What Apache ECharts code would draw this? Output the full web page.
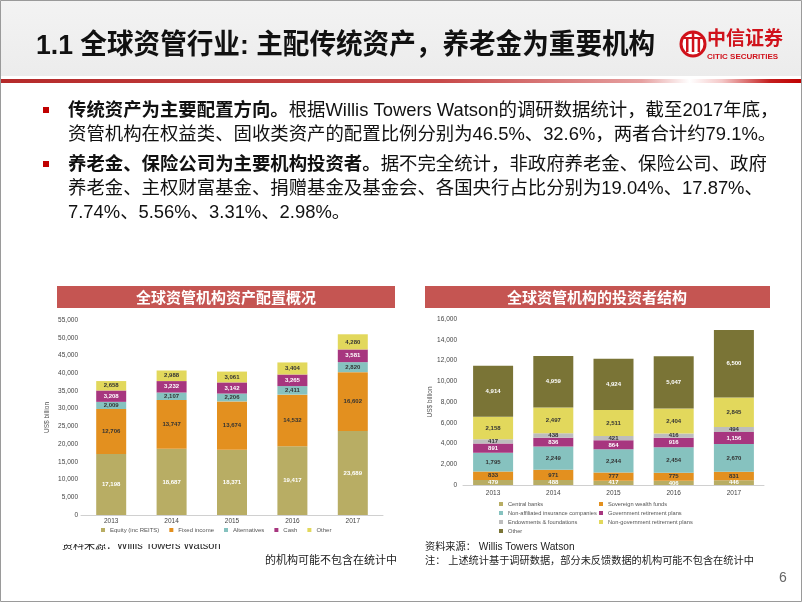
<!DOCTYPE html>
<html><head><meta charset="utf-8">
<script src="https://cdn.jsdelivr.net/npm/echarts@6/dist/echarts.min.js"></script>
<style>html,body{margin:0;padding:0;background:#fff}#c{width:802px;height:602px}</style>
</head><body><div id="c"></div>
<script>
// ---- data ----
const years = ['2013','2014','2015','2016','2017'];
// left chart: asset allocation (US$ bn)
const equity       = [17198,18687,18371,19417,23689];
const fixedIncome  = [12706,13747,13674,14532,16602];
const alternatives = [2009,2107,2206,2411,2820];
const cash         = [3208,3232,3142,3265,3581];
const otherAssets  = [2658,2988,3061,3404,4280];
// right chart: investor structure (US$ bn)
const centralBanks = [479,488,417,406,446];
const sovereign    = [833,971,777,775,831];
const insurance    = [1795,2249,2244,2454,2670];
const govPlans     = [891,836,864,916,1156];
const endowments   = [417,438,421,416,494];
const nonGovPlans  = [2158,2497,2511,2404,2845];
const otherInv     = [4914,4959,4924,5047,6500];

const leftNames  = ['Equity (inc REITS)','Fixed income','Alternatives','Cash','Other'];
const rightNames = ['Central banks','Sovereign wealth funds','Non-affiliated insurance companies','Government retirement plans','Endowments & foundations','Non-government retirement plans','Other '];

const CJK = "'Liberation Sans','Noto Sans CJK SC',sans-serif";
const fmt = v => Number(v).toLocaleString('en-US');

function bar(name, data, color, labelColor, xi, bw){
  return {name, type:'bar', stack:'s'+xi, data, xAxisIndex:xi, yAxisIndex:xi, barWidth:bw,
    itemStyle:{color}, emphasis:{disabled:true},
    label:{show:true, position:'inside', color:labelColor, fontSize:6, fontWeight:'bold',
      fontFamily:'Liberation Sans', formatter:p=>fmt(p.value)}};
}

const chart = echarts.init(document.getElementById('c'), null, {renderer:'canvas'});
const bullet1 = '{b|传统资产为主要配置方向。}根据Willis Towers Watson的调研数据统计，截至2017年底，\n资管机构在权益类、固收类资产的配置比例分别为46.5%、32.6%，两者合计约79.1%。';
const bullet2 = '{b|养老金、保险公司为主要机构投资者。}据不完全统计，非政府养老金、保险公司、政府\n养老金、主权财富基金、捐赠基金及基金会、各国央行占比分别为19.04%、17.87%、\n7.74%、5.56%、3.31%、2.98%。';

const axisLab = {fontSize:6.5, color:'#444', fontFamily:'Liberation Sans'};
const legText = {fontSize:6, color:'#555', fontFamily:'Liberation Sans'};
const legTextR = {fontSize:5.7, color:'#555', fontFamily:'Liberation Sans'};
chart.setOption({
  animation:false,
  backgroundColor:'#fff',
  grid:[
    {left:81, top:320, width:302, height:195},
    {left:463, top:319, width:301, height:166}
  ],
  xAxis:[
    {type:'category', gridIndex:0, data:years, axisTick:{show:false}, axisLine:{lineStyle:{color:'#d0d0d0'}}, axisLabel:Object.assign({margin:3},axisLab)},
    {type:'category', gridIndex:1, data:years, axisTick:{show:false}, axisLine:{lineStyle:{color:'#d0d0d0'}}, axisLabel:Object.assign({margin:5},axisLab)}
  ],
  yAxis:[
    {type:'value', gridIndex:0, min:0, max:55000, interval:5000, splitLine:{show:false},
     axisLabel:Object.assign({margin:3, formatter:fmt},axisLab),
     name:'US$ billion', nameLocation:'middle', nameGap:30, nameRotate:90, nameTextStyle:{fontSize:6.5,color:'#555'}},
    {type:'value', gridIndex:1, min:0, max:16000, interval:2000, splitLine:{show:false},
     axisLabel:Object.assign({margin:6, formatter:fmt},axisLab),
     name:'US$ billion', nameLocation:'middle', nameGap:27, nameRotate:90, nameTextStyle:{fontSize:6.5,color:'#555'}}
  ],
  legend:[
    {data:leftNames, left:96, top:522, itemWidth:4, itemHeight:4, itemGap:10, icon:'rect', textStyle:legText},
    {data:['Central banks','Non-affiliated insurance companies','Endowments & foundations','Other '], orient:'vertical', left:494, top:496, itemWidth:4, itemHeight:4, itemGap:3, icon:'rect', textStyle:legTextR},
    {data:['Sovereign wealth funds','Government retirement plans','Non-government retirement plans'], orient:'vertical', left:594, top:496, itemWidth:4, itemHeight:4, itemGap:3, icon:'rect', textStyle:legTextR}
  ],
  series:[
    bar(leftNames[0], equity, '#b8ad64', '#fff', 0, 30),
    bar(leftNames[1], fixedIncome, '#e3901f', '#333', 0, 30),
    bar(leftNames[2], alternatives, '#86c2bf', '#333', 0, 30),
    bar(leftNames[3], cash, '#a7367f', '#fff', 0, 30),
    bar(leftNames[4], otherAssets, '#e2d85c', '#333', 0, 30),
    bar(rightNames[0], centralBanks, '#b8ad64', '#fff', 1, 40),
    bar(rightNames[1], sovereign, '#e3901f', '#333', 1, 40),
    bar(rightNames[2], insurance, '#86c2bf', '#333', 1, 40),
    bar(rightNames[3], govPlans, '#a7367f', '#fff', 1, 40),
    bar(rightNames[4], endowments, '#bdbdbd', '#333', 1, 40),
    bar(rightNames[5], nonGovPlans, '#e2d85c', '#333', 1, 40),
    bar(rightNames[6], otherInv, '#7a7436', '#fff', 1, 40)
  ],
  graphic:[
    // header
    {type:'rect', shape:{x:0,y:0,width:802,height:76}, style:{fill:new echarts.graphic.LinearGradient(0,0,0,1,[{offset:0,color:'#f3f3f3'},{offset:1,color:'#ececec'}])}, z:-1},
    {type:'rect', shape:{x:0,y:79,width:802,height:4}, style:{fill:new echarts.graphic.LinearGradient(0,0,1,0,[
      {offset:0,color:'#b52a2a'},{offset:0.55,color:'#c84a4a'},{offset:0.8,color:'#e6a0a0'},{offset:0.86,color:'#ffffff'},{offset:0.9,color:'#f4c8c8'},{offset:0.96,color:'#c41e1e'},{offset:1,color:'#c00000'}])}},
    {type:'rect', shape:{x:0.5,y:0.5,width:801,height:601}, style:{fill:null, stroke:'#9a9a9a', lineWidth:1}, z:100},
    {type:'text', x:36, y:46, scaleX:0.95, style:{text:'1.1 全球资管行业: 主配传统资产，养老金为重要机构', font:"bold 28px 'Liberation Sans','Noto Sans CJK SC'", fill:'#111', textVerticalAlign:'middle'}},
    // logo
    {type:'circle', shape:{cx:693,cy:44,r:12}, style:{fill:'#fff', stroke:'#d0121b', lineWidth:3}},
    {type:'rect', shape:{x:686,y:37,width:2.5,height:15}, style:{fill:'#d0121b'}},
    {type:'rect', shape:{x:691.8,y:33,width:2.5,height:19}, style:{fill:'#d0121b'}},
    {type:'rect', shape:{x:697.6,y:37,width:2.5,height:15}, style:{fill:'#d0121b'}},
    {type:'rect', shape:{x:684,y:37,width:18,height:2}, style:{fill:'#d0121b'}},
    {type:'text', x:707, y:38, style:{text:'中信证券', font:"bold 19px 'Noto Sans CJK SC'", fill:'#d0121b', textVerticalAlign:'middle'}},
    {type:'text', x:707, y:57, style:{text:'CITIC SECURITIES', font:"bold 8px 'Liberation Sans Narrow','Liberation Sans'", fill:'#d0121b', textVerticalAlign:'middle'}},
    // bullets
    {type:'rect', shape:{x:43,y:107,width:6,height:6}, style:{fill:'#c00000'}},
    {type:'rect', shape:{x:43,y:161,width:6,height:6}, style:{fill:'#c00000'}},
    {type:'text', x:68, y:99, style:{text:bullet1, font:"18.4px "+CJK, fill:'#111', lineHeight:24,
      rich:{b:{fontWeight:'bold', fontSize:18.4, fontFamily:"'Liberation Sans','Noto Sans CJK SC'", fill:'#111'}}}},
    {type:'text', x:68, y:153, style:{text:bullet2, font:"18.4px "+CJK, fill:'#111', lineHeight:24,
      rich:{b:{fontWeight:'bold', fontSize:18.4, fontFamily:"'Liberation Sans','Noto Sans CJK SC'", fill:'#111'}}}},
    // chart title bars
    {type:'rect', shape:{x:57,y:286,width:338,height:22}, style:{fill:'#c55552'}},
    {type:'text', x:226, y:297, style:{text:'全球资管机构资产配置概况', font:"bold 15px 'Noto Sans CJK SC'", fill:'#fff', textAlign:'center', textVerticalAlign:'middle'}},
    {type:'rect', shape:{x:425,y:286,width:345,height:22}, style:{fill:'#c55552'}},
    {type:'text', x:597, y:297, style:{text:'全球资管机构的投资者结构', font:"bold 15px 'Noto Sans CJK SC'", fill:'#fff', textAlign:'center', textVerticalAlign:'middle'}},
    // sources
    {type:'text', x:62, y:540, style:{text:'资料来源：Willis Towers Watson', font:"11px "+CJK, fill:'#222'}},
    {type:'rect', shape:{x:55,y:536,width:345,height:8}, style:{fill:'#fff'}},
    {type:'text', x:265, y:554, style:{text:'的机构可能不包含在统计中', font:"11px 'Noto Sans CJK SC'", fill:'#222'}},
    {type:'text', x:425, y:542, style:{text:'资料来源： Willis Towers Watson', font:"10.2px "+CJK, fill:'#222'}},
    {type:'text', x:425, y:556, style:{text:'注： 上述统计基于调研数据，部分未反馈数据的机构可能不包含在统计中', font:"10.2px "+CJK, fill:'#222'}},
    {type:'text', x:779, y:571, style:{text:'6', font:"14px 'Liberation Sans'", fill:'#666'}}
  ]
});
</script></body></html>
